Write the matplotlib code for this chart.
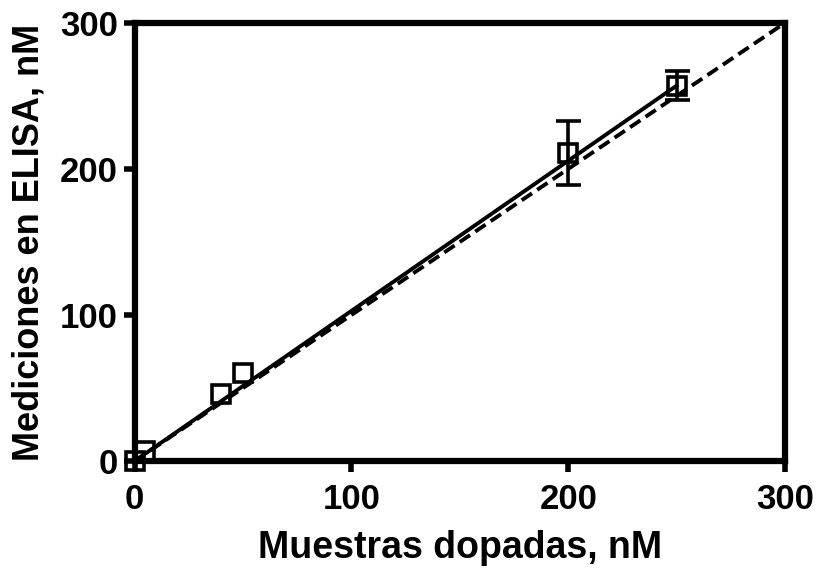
import numpy as np
import matplotlib
matplotlib.use('Agg')
import matplotlib.pyplot as plt

# datos
dopadas   = [0, 5, 40, 50, 200, 250]
elisa     = [0, 7, 46, 60, 211, 257]
err_elisa = [0, 0, 0, 0, 22, 10]

ajuste_x = [0, 250]
ajuste_y = [0, 257]
ident_x  = [0, 300]
ident_y  = [0, 300]

ticks = [0, 100, 200, 300]

plt.rcParams['font.family'] = ['Liberation Sans', 'DejaVu Sans']
plt.rcParams['font.weight'] = 'bold'

fig = plt.figure(figsize=(8.16, 5.72), dpi=100)
ax = fig.add_axes([0.165, 0.194, 0.797, 0.766])

# linea de identidad y ajuste
ax.plot(ident_x, ident_y, color='black', lw=2.8, ls=(0, (3.2, 1.6)), zorder=2)
ax.plot(ajuste_x, ajuste_y, color='black', lw=2.8, zorder=2)

# solo las barras de error distintas de cero
x_err = [x for x, e in zip(dopadas, err_elisa) if e > 0]
y_err = [y for y, e in zip(elisa, err_elisa) if e > 0]
e_err = [e for e in err_elisa if e > 0]
ax.errorbar(x_err, y_err, yerr=e_err, fmt='none', ecolor='black',
            elinewidth=2.6, capsize=9, capthick=2.6, zorder=3)

ax.plot(dopadas, elisa, 's', mfc='none', mec='black', mew=2.6, ms=13,
        zorder=4, clip_on=False)

ax.set_xlim(0, 300)
ax.set_ylim(0, 300)
ax.set_xticks(ticks)
ax.set_yticks(ticks)

for s in ax.spines.values():
    s.set_linewidth(4.5)

ax.tick_params(width=4, length=8, labelsize=25, pad=4)
ax.tick_params(axis='x', pad=8)

ax.set_xlabel('Muestras dopadas, nM', fontsize=27, fontweight='bold', labelpad=10)
ax.set_ylabel('Mediciones en ELISA, nM', fontsize=26, fontweight='bold', labelpad=10)

fig.savefig('out.png', dpi=100)
